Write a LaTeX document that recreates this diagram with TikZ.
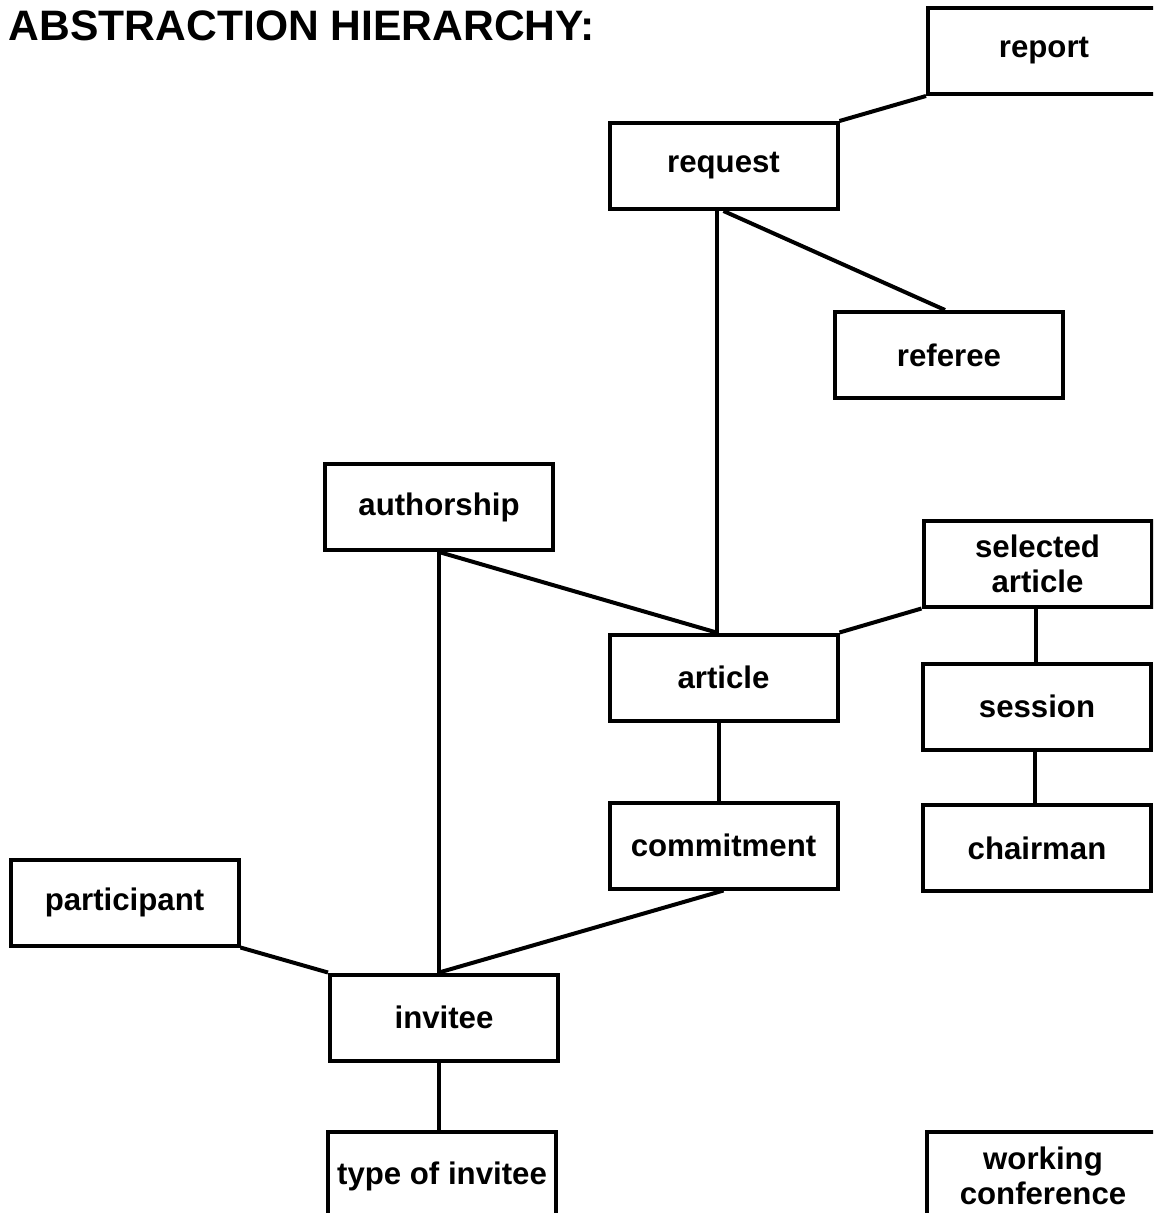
\documentclass[tikz,border=0pt]{standalone}
\usepackage{fontspec}
\setmainfont{Liberation Sans}
\usetikzlibrary{positioning}

\begin{document}
\begin{tikzpicture}[x=0.5pt,y=-0.5pt,line width=2pt,
    entity/.style={draw,line width=2pt,minimum width=114pt,minimum height=43pt,
      inner sep=2pt,align=center,font=\fontsize{15.6}{17.5}\selectfont\bfseries},
    link/.style={line width=2pt}]

    \useasboundingbox (0,0) rectangle (1153,1213);
    \clip (0,0) rectangle (1153,1213);

    \node[anchor=base west,inner sep=0pt,font=\fontsize{21.3}{24}\selectfont\bfseries]
      (title) at (7,41) {ABSTRACTION HIERARCHY:};

    % upper half
    \node[entity,minimum width=116pt] (report) at (1044,51) {report};
    \node[entity] (request) at (723.5,166) {request};
    \node[entity] (referee) at (949,355) {referee};
    \node[entity] (authorship) at (439,507) {authorship};
    \node[entity] (selart) at (1037.5,563.5) {selected\\article};
    \node[entity] (article) at (723.5,677.5) {article};
    \node[entity] (session) at (1037,706.5) {session};

    % lower half
    \node[entity] (commitment) at (723.5,845.5) {commitment};
    \node[entity] (chairman) at (1037,848) {chairman};
    \node[entity] (participant) at (124.5,902.5) {participant};
    \node[entity] (invitee) at (444,1017.5) {invitee};
    \node[entity,minimum height=44pt] (typeinv) at (442,1176) {type of invitee};
    \node[entity,minimum width=116pt,minimum height=44pt] (workconf) at (1043,1176) {working\\conference};

    \coordinate (artjoin) at ([xshift=-3.5pt]article.north);
    \coordinate (invjoin) at (authorship.south |- invitee.north);

    \draw[link] (report.south west) -- (request.north east);
    \draw[link] (request.south -| artjoin) -- (artjoin);
    \draw[link] (request.south) -- ([xshift=-2pt]referee.north);
    \draw[link] (authorship.south) -- (artjoin);
    \draw[link] (selart.south west) -- (article.north east);
    \draw[link] ([xshift=-1pt]selart.south) -- ([xshift=-1pt]selart.south |- session.north);
    \draw[link] ([xshift=-1pt]session.south) -- ([xshift=-1pt]session.south |- chairman.north);
    \draw[link] ([xshift=-2.5pt]article.south) -- ([xshift=-2.5pt]article.south |- commitment.north);
    \draw[link] (authorship.south) -- (invjoin);
    \draw[link] (commitment.south) -- (invjoin);
    \draw[link] (participant.south east) -- (invitee.north west);
    \draw[link] (invjoin |- invitee.south) -- (invjoin |- typeinv.north);
  \end{tikzpicture}
\end{document}
